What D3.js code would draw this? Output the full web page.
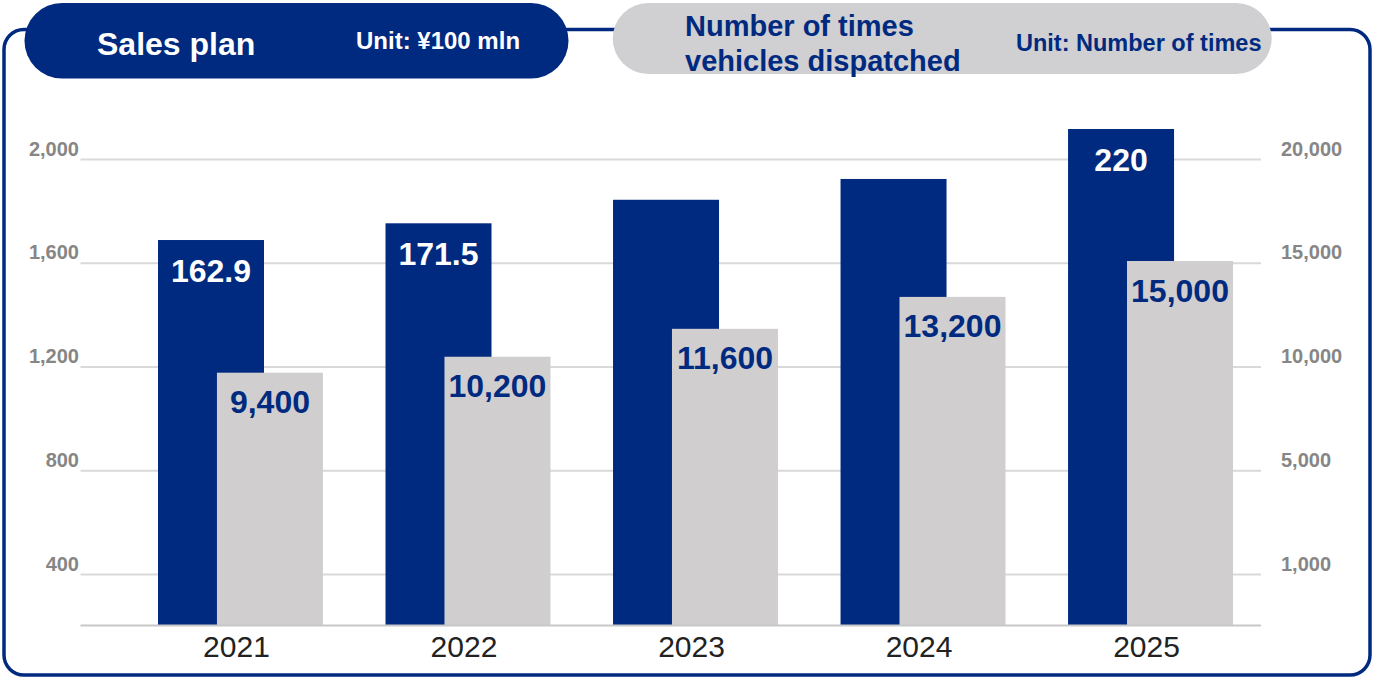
<!DOCTYPE html>
<html>
<head>
<meta charset="utf-8">
<script src="https://cdn.jsdelivr.net/npm/d3@7"></script>
<style>
  html, body { margin: 0; padding: 0; background: #ffffff; }
  svg { display: block; }
  text { font-family: "Liberation Sans", Arial, Helvetica, sans-serif; }
</style>
</head>
<body>
<svg id="chart" width="1374" height="677"></svg>
<script>
// ---- data ----
const years = ["2021", "2022", "2023", "2024", "2025"];
const salesPlan = [162.9, 171.5, 183.6, 194.3, 220];          // ¥100 mln
const salesLabels = ["162.9", "171.5", null, null, "220"];
const dispatches = [9400, 10200, 11600, 13200, 15000];        // number of times
const leftTicks = [400, 800, 1200, 1600, 2000];
const rightTickLabels = ["1,000", "5,000", "10,000", "15,000", "20,000"];

// ---- styling ----
const NAVY = "#002a7f";
const GREY_BAR = "#d0cecf";
const GRID = "#d9d9d9";
const TICK_TEXT = "#868686";

const W = 1374, H = 677;
const plotLeft = 80.5, plotRight = 1261, baseY = 625;

const svg = d3.select("#chart");
svg.append("rect").attr("width", W).attr("height", H).attr("fill", "#fff");

// rounded frame around the panel
svg.append("rect")
  .attr("x", 4).attr("y", 29.5)
  .attr("width", 1366).attr("height", 645.5)
  .attr("rx", 20).attr("ry", 20)
  .attr("fill", "none")
  .attr("stroke", NAVY).attr("stroke-width", 3.5);

// ---- scales ----
const x = d3.scaleBand().domain(years).range([158, 1233]).paddingInner(0.275);
const barW = 106;

// axis scale for the gridlines / tick labels
const yAxis = d3.scaleLinear().domain([400, 2000]).range([574.5, 159.5]);

// bar scales (the value axis is cut at the baseline)
const ySales = d3.scaleLinear().domain([-35.1, 220]).range([baseY, 129]);
const yDisp = d3.scaleLinear().domain([-3250, 15000]).range([baseY, 261]);

// ---- gridlines ----
svg.append("g").selectAll("line")
  .data(leftTicks)
  .join("line")
  .attr("x1", plotLeft).attr("x2", plotRight)
  .attr("y1", d => yAxis(d)).attr("y2", d => yAxis(d))
  .attr("stroke", GRID).attr("stroke-width", 2);

function styleTicks(g) {
  g.select(".domain").remove();
  g.selectAll("text")
    .attr("dy", -4.5)
    .attr("fill", TICK_TEXT)
    .style("font-size", "20px")
    .style("font-weight", "bold")
    .style("font-family", "'Liberation Sans', Arial, sans-serif");
}

// ---- left axis labels ----
svg.append("g")
  .attr("transform", `translate(79,0)`)
  .call(d3.axisLeft(yAxis).tickValues(leftTicks).tickSize(0).tickPadding(0).tickFormat(d3.format(",")))
  .call(styleTicks);

// ---- right axis labels ----
svg.append("g")
  .attr("transform", `translate(1281,0)`)
  .call(d3.axisRight(yAxis).tickValues(leftTicks).tickSize(0).tickPadding(0)
    .tickFormat((d, i) => rightTickLabels[i]))
  .call(styleTicks);

// ---- bars ----
const rows = years.map((y, i) => ({
  year: y, sales: salesPlan[i], salesLabel: salesLabels[i], disp: dispatches[i]
}));

svg.append("g").selectAll("rect")
  .data(rows)
  .join("rect")
  .attr("x", d => x(d.year))
  .attr("y", d => ySales(d.sales))
  .attr("width", barW)
  .attr("height", d => baseY + 1 - ySales(d.sales))
  .attr("fill", NAVY);

svg.append("g").selectAll("rect")
  .data(rows)
  .join("rect")
  .attr("x", d => x(d.year) + x.bandwidth() - barW)
  .attr("y", d => yDisp(d.disp))
  .attr("width", barW)
  .attr("height", d => baseY - yDisp(d.disp))
  .attr("fill", GREY_BAR);

// baseline
svg.append("line")
  .attr("x1", plotLeft).attr("x2", plotRight)
  .attr("y1", baseY + 0.5).attr("y2", baseY + 0.5)
  .attr("stroke", "#c8c8c8").attr("stroke-width", 2);

// ---- value labels ----
svg.append("g").selectAll("text")
  .data(rows.filter(d => d.salesLabel))
  .join("text")
  .attr("x", d => x(d.year) + barW / 2)
  .attr("y", d => ySales(d.sales) + 41.5)
  .attr("text-anchor", "middle")
  .attr("fill", "#ffffff")
  .style("font-size", "32px")
  .style("font-weight", "bold")
  .text(d => d.salesLabel);

svg.append("g").selectAll("text")
  .data(rows)
  .join("text")
  .attr("x", d => x(d.year) + x.bandwidth() - barW / 2)
  .attr("y", d => yDisp(d.disp) + 40.5)
  .attr("text-anchor", "middle")
  .attr("fill", NAVY)
  .style("font-size", "32px")
  .style("font-weight", "bold")
  .text(d => d3.format(",")(d.disp));

// ---- year labels ----
const gX = svg.append("g")
  .attr("transform", `translate(-4,${baseY})`)
  .call(d3.axisBottom(x).tickSize(0).tickPadding(0));
gX.select(".domain").remove();
gX.selectAll("text")
  .attr("dy", 0).attr("y", 32)
  .attr("fill", "#222")
  .style("font-size", "30px")
  .style("font-family", "'Liberation Sans', Arial, sans-serif");

// ---- header pills ----
svg.append("rect")
  .attr("x", 24.5).attr("y", 3).attr("width", 544).attr("height", 75.5)
  .attr("rx", 37.5).attr("ry", 37.5)
  .attr("fill", NAVY);
svg.append("text")
  .attr("x", 97).attr("y", 55)
  .attr("fill", "#fff").style("font-size", "32px").style("font-weight", "bold")
  .text("Sales plan");
svg.append("text")
  .attr("x", 356).attr("y", 48.5)
  .attr("fill", "#fff").style("font-size", "24px").style("font-weight", "bold")
  .text("Unit: ¥100 mln");

svg.append("rect")
  .attr("x", 612.7).attr("y", 3).attr("width", 659).attr("height", 71)
  .attr("rx", 35.5).attr("ry", 35.5)
  .attr("fill", "#d0cfd1");
const title2 = svg.append("text")
  .attr("fill", NAVY).style("font-size", "29px").style("font-weight", "bold");
title2.append("tspan").attr("x", 685).attr("y", 36).text("Number of times");
title2.append("tspan").attr("x", 685).attr("y", 70.7).text("vehicles dispatched");
svg.append("text")
  .attr("x", 1016).attr("y", 50.5)
  .attr("fill", NAVY).style("font-size", "23.5px").style("font-weight", "bold")
  .text("Unit: Number of times");
</script>
</body>
</html>
